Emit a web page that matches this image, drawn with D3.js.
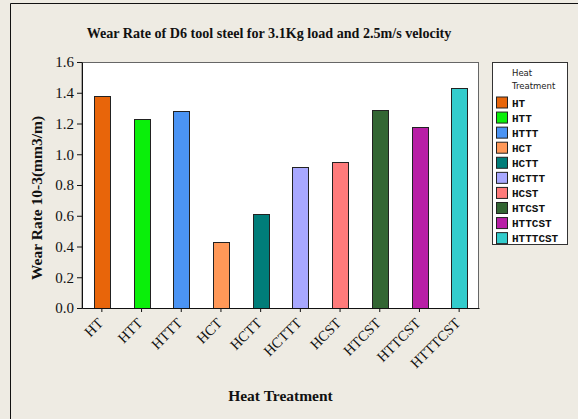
<!DOCTYPE html>
<html>
<head>
<meta charset="utf-8">
<script src="https://cdn.jsdelivr.net/npm/d3@7"></script>
<style>
  body { margin: 0; background: #eeebe3; }
  svg { display: block; }
</style>
</head>
<body>
<div id="chart"></div>
<script>
// Wear rate bar chart for D6 tool steel

const treatments = ["HT", "HTT", "HTTT", "HCT", "HCTT", "HCTTT", "HCST", "HTCST", "HTTCST", "HTTTCST"];
const wearRates = [1.38, 1.23, 1.28, 0.43, 0.61, 0.92, 0.95, 1.29, 1.18, 1.43];
const barColors = ["#e8650a", "#0aef0a", "#4b94f4", "#ff9858", "#007d79", "#a8a8ff", "#ff7b7b", "#336633", "#b81fa6", "#33cccc"];
const yTicks = [0.0, 0.2, 0.4, 0.6, 0.8, 1.0, 1.2, 1.4, 1.6];

const width = 578;
const height = 419;
const plot = { left: 82, right: 479, top: 62, bottom: 308 };
const serif = "'Liberation Serif', 'Times New Roman', serif";

const svg = d3.select("#chart")
  .append("svg")
  .attr("width", width)
  .attr("height", height);

// background + outer frame
svg.append("rect")
  .attr("width", width)
  .attr("height", height)
  .attr("fill", "#eeebe3");

svg.append("path")
  .attr("d", `M10.5,${height} V3.5 H${width}`)
  .attr("fill", "none")
  .attr("stroke", "#111")
  .attr("stroke-width", 1);

// plot area
svg.append("rect")
  .attr("x", plot.left)
  .attr("y", plot.top + 0.5)
  .attr("width", plot.right - plot.left - 0.5)
  .attr("height", plot.bottom - plot.top)
  .attr("fill", "#fff")
  .attr("stroke", "#666")
  .attr("stroke-width", 1);

const x = d3.scaleBand()
  .domain(treatments)
  .range([plot.left, plot.right])
  .paddingInner(0.6)
  .paddingOuter(0.3);

const y = d3.scaleLinear()
  .domain([0, 1.6])
  .range([plot.bottom, plot.top]);

// bars
svg.append("g")
  .selectAll("rect")
  .data(treatments)
  .join("rect")
  .attr("x", d => Math.round(x(d)) + 0.5)
  .attr("y", (d, i) => Math.round(y(wearRates[i])) + 0.5)
  .attr("width", Math.round(x.bandwidth()))
  .attr("height", (d, i) => Math.round(y(0)) - Math.round(y(wearRates[i])))
  .attr("fill", (d, i) => barColors[i])
  .attr("stroke", "#222")
  .attr("stroke-width", 1);

// axes
const yAxisG = svg.append("g")
  .attr("transform", `translate(${plot.left},0)`)
  .call(d3.axisLeft(y).tickValues(yTicks).tickFormat(d3.format(".1f")).tickSize(5).tickSizeOuter(0));

const xAxisG = svg.append("g")
  .attr("transform", `translate(0,${plot.bottom})`)
  .call(d3.axisBottom(x).tickSize(4).tickSizeOuter(0));

[xAxisG, yAxisG].forEach(g => {
  g.attr("font-family", serif).attr("font-size", 15);
  g.selectAll("path, line").attr("stroke", "#111");
  g.selectAll("text").attr("fill", "#111");
});

yAxisG.selectAll("text").attr("x", -8);

xAxisG.selectAll("text")
  .attr("text-anchor", "end")
  .attr("dy", "0.3em")
  .attr("font-size", 14.5)
  .attr("transform", "translate(-1,13) rotate(-45)")
  .attr("x", 0)
  .attr("y", 0);

// titles
svg.append("text")
  .attr("x", 269)
  .attr("y", 38)
  .attr("text-anchor", "middle")
  .attr("font-family", serif)
  .attr("font-weight", "bold")
  .attr("font-size", 14.1)
  .attr("fill", "#111")
  .text("Wear Rate of D6 tool steel for 3.1Kg load and 2.5m/s velocity");

svg.append("text")
  .attr("transform", `translate(42,198) rotate(-90)`)
  .attr("text-anchor", "middle")
  .attr("font-family", serif)
  .attr("font-weight", "bold")
  .attr("font-size", 15.5)
  .attr("fill", "#111")
  .text("Wear Rate 10-3(mm3/m)");

svg.append("text")
  .attr("x", (plot.left + plot.right) / 2)
  .attr("y", 401)
  .attr("text-anchor", "middle")
  .attr("font-family", serif)
  .attr("font-weight", "bold")
  .attr("font-size", 15.5)
  .attr("fill", "#111")
  .text("Heat Treatment");

// legend
const legend = svg.append("g").attr("transform", "translate(492,62)");

legend.append("rect")
  .attr("x", 0.5)
  .attr("y", 0.5)
  .attr("width", 75)
  .attr("height", 182)
  .attr("fill", "#fff")
  .attr("stroke", "#333");

legend.selectAll("text.head")
  .data(["Heat", "Treatment"])
  .join("text")
  .attr("class", "head")
  .attr("x", 20)
  .attr("y", (d, i) => 14 + i * 13)
  .attr("font-family", "'DejaVu Sans', Tahoma, sans-serif")
  .attr("font-size", 8.5)
  .attr("fill", "#222")
  .text(d => d);

const item = legend.selectAll("g.item")
  .data(treatments)
  .join("g")
  .attr("class", "item")
  .attr("transform", (d, i) => `translate(0,${40.5 + i * 15.07})`);

item.append("rect")
  .attr("x", 4.5)
  .attr("y", -5.5)
  .attr("width", 11)
  .attr("height", 11)
  .attr("fill", (d, i) => barColors[i])
  .attr("stroke", "#222");

item.append("text")
  .attr("x", 20)
  .attr("y", 4)
  .attr("font-family", "'Liberation Mono', 'DejaVu Sans Mono', monospace")
  .attr("font-weight", "bold")
  .attr("font-size", 11)
  .attr("fill", "#111")
  .text(d => d);
</script>
</body>
</html>
